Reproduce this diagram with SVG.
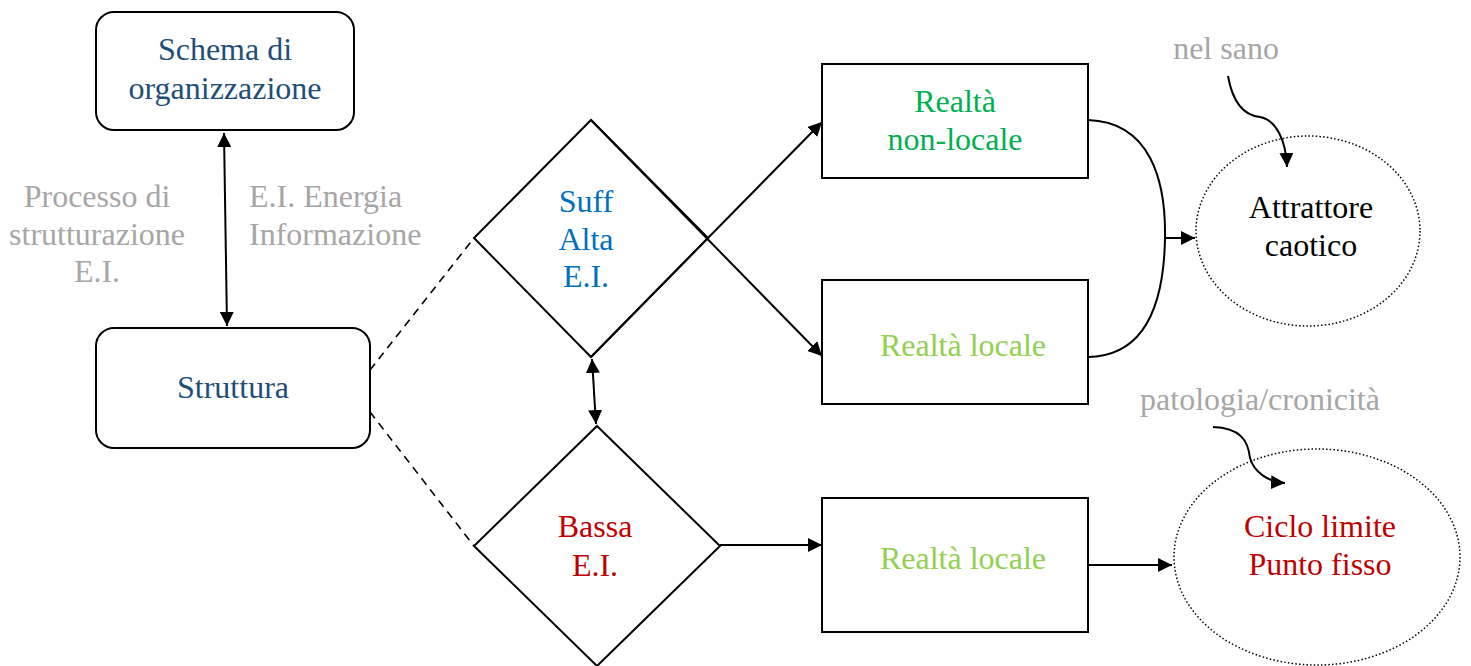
<svg xmlns="http://www.w3.org/2000/svg" width="1471" height="666" viewBox="0 0 1471 666">
<style>
text{font-family:"Liberation Serif","Times New Roman",serif;font-size:32px;text-anchor:middle}
.node{fill:#fff;stroke:#000;stroke-width:2}
.c{fill:none;stroke:#000;stroke-width:2}
.dash{fill:none;stroke:#000;stroke-width:1.6;stroke-dasharray:8,6}
.ell{fill:none;stroke:#000;stroke-width:1.5;stroke-dasharray:1.5,2.2}
.blue{fill:#1F4E79}.gray{fill:#A6A6A6}.lb{fill:#0070C0}.red{fill:#C00000}.g{fill:#00B050}.lg{fill:#92D050}.k{fill:#000}
</style>
<defs>
<marker id="ah" viewBox="0 0 10 10" refX="10" refY="5" markerWidth="14" markerHeight="14" markerUnits="userSpaceOnUse" orient="auto-start-reverse"><path d="M0,0L10,5L0,10z" fill="#000"/></marker>
</defs>
<g id="schema"><rect class="node" x="96" y="12" width="258" height="118" rx="18"/><text class="blue" x="225" y="60">Schema di</text><text class="blue" x="225" y="99">organizzazione</text></g>
<g id="struttura"><rect class="node" x="96" y="328" width="274" height="120" rx="18"/><text class="blue" x="233" y="398">Struttura</text></g>
<g id="label-processo"><text class="gray" x="97" y="207">Processo di</text><text class="gray" x="97" y="245">strutturazione</text><text class="gray" x="97" y="282">E.I.</text></g>
<g id="label-ei"><text class="gray" x="249" y="207" style="text-anchor:start">E.I. Energia</text><text class="gray" x="249" y="245" style="text-anchor:start">Informazione</text></g>
<g id="suff"><path class="node" style="fill:none" d="M591,120L708,238L591,357L474,238Z"/><text class="lb" x="586" y="212">Suff</text><text class="lb" x="586" y="250">Alta</text><text class="lb" x="586" y="287">E.I.</text></g>
<g id="bassa"><path class="node" d="M597,426L720,546L597,666L474,546Z"/><text class="red" x="595" y="537">Bassa</text><text class="red" x="595" y="576">E.I.</text></g>
<g id="nonlocale"><rect class="node" x="822" y="64" width="266" height="114"/><text class="g" x="955" y="112">Realtà</text><text class="g" x="955" y="150">non-locale</text></g>
<g id="locale1"><rect class="node" x="822" y="280" width="266" height="124"/><text class="lg" x="963" y="356">Realtà locale</text></g>
<g id="locale2"><rect class="node" x="822" y="498" width="266" height="134"/><text class="lg" x="963" y="569">Realtà locale</text></g>
<g id="attrattore"><ellipse class="ell" cx="1308" cy="231" rx="112" ry="95"/><text class="k" x="1311" y="218">Attrattore</text><text class="k" x="1311" y="256">caotico</text></g>
<g id="ciclo"><ellipse class="ell" cx="1317" cy="557" rx="143" ry="108"/><text class="red" x="1320" y="537">Ciclo limite</text><text class="red" x="1320" y="575">Punto fisso</text></g>
<g id="nelsano"><text class="gray" x="1226" y="59">nel sano</text></g>
<g id="patologia"><text class="gray" x="1260" y="410">patologia/cronicità</text></g>
<g id="connectors">
<line class="c" x1="224" y1="133" x2="227" y2="326" marker-start="url(#ah)" marker-end="url(#ah)"/>
<line class="dash" x1="370" y1="370" x2="474" y2="238"/>
<line class="dash" x1="370" y1="412" x2="474" y2="546"/>
<line class="c" x1="592" y1="359" x2="596" y2="424" marker-start="url(#ah)" marker-end="url(#ah)"/>
<line class="c" x1="591" y1="357" x2="822" y2="122" marker-end="url(#ah)"/>
<line class="c" x1="591" y1="120" x2="822" y2="356" marker-end="url(#ah)"/>
<line class="c" x1="720" y1="545" x2="822" y2="545" marker-end="url(#ah)"/>
<path class="c" d="M1088,120 C1150,122 1166,180 1165,238 C1164,300 1148,356 1088,357"/>
<line class="c" x1="1165" y1="238" x2="1195" y2="238" marker-end="url(#ah)"/>
<line class="c" x1="1088" y1="565" x2="1172" y2="565" marker-end="url(#ah)"/>
<path class="c" d="M1228,76 C1234,110 1250,116 1260,117 C1276,120 1286,140 1287,167" marker-end="url(#ah)"/>
<path class="c" d="M1213,427 C1240,428 1248,440 1250,458 C1254,472 1268,482 1285,483" marker-end="url(#ah)"/>
</g>
</svg>
